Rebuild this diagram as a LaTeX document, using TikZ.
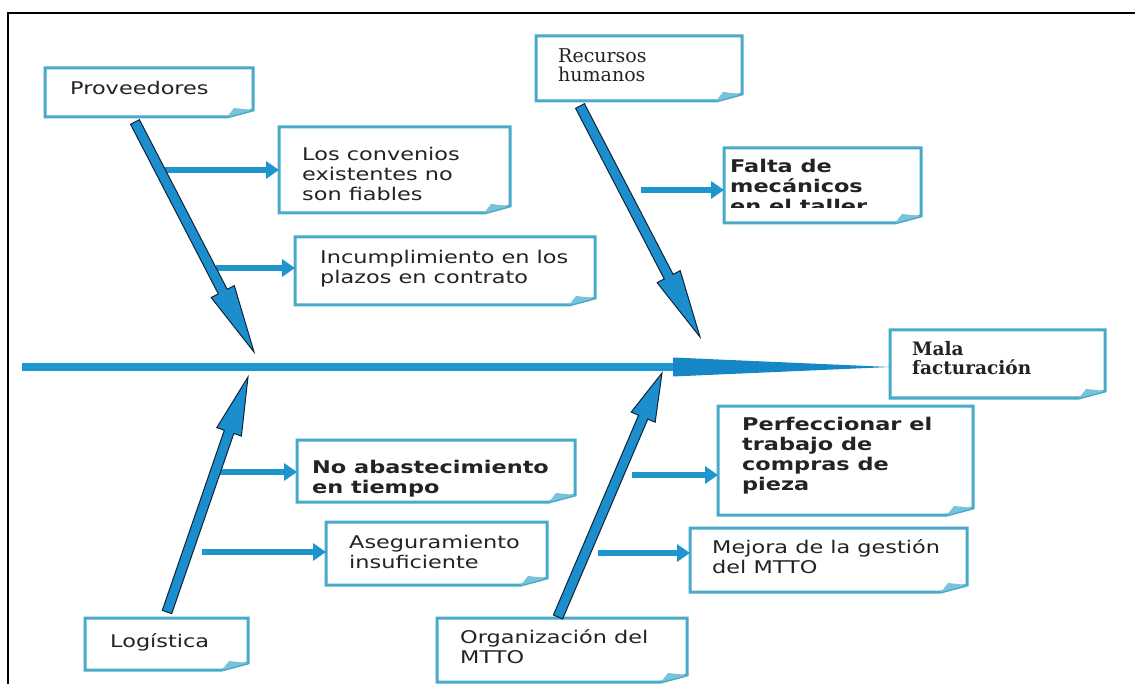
\documentclass[tikz,border=0pt]{standalone}
\usepackage{fontspec}
\usetikzlibrary{calc,arrows.meta}
\newfontfamily\sansf[FakeStretch=1.28]{DejaVu Sans}
\newfontfamily\seriff{DejaVu Serif}
\definecolor{boxc}{RGB}{72,170,200}
\definecolor{foldc}{RGB}{120,195,218}
\definecolor{bonec}{RGB}{28,142,205}
\definecolor{boneedge}{RGB}{15,35,55}
\definecolor{spinec}{RGB}{30,150,210}
\definecolor{spinehead}{RGB}{22,135,198}
\definecolor{subc}{RGB}{30,150,205}
\definecolor{txtc}{RGB}{35,35,35}
\newcommand\cbox[5]{%
  \node[inner sep=0pt, outer sep=0pt, minimum width={#4pt-#2pt}, minimum height={#5pt-#3pt}] (#1) at ({(#2+#4)/2},{(#3+#5)/2}) {};
  \draw[boxline] (#1.north west) -- (#1.north east) -- ([yshift=7pt]#1.south east) -- ([xshift=-26pt]#1.south east) -- (#1.south west) -- cycle;
  \fill[foldc] ([yshift=7pt]#1.south east) -- ([xshift=-26pt]#1.south east) -- ([xshift=-19pt,yshift=9pt]#1.south east) -- cycle;
}
\newcommand\bonearrow[3]{%
  \coordinate (#1-h) at ($(#2)!#3!(#1)$);
  \filldraw[bonefill] ($(#1)!5pt!90:(#2)$) -- ($(#1-h)!5pt!90:(#2)$) -- ($(#1-h)!13pt!90:(#2)$) -- (#2)
     -- ($(#1-h)!13pt!-90:(#2)$) -- ($(#1-h)!5pt!-90:(#2)$) -- ($(#1)!5pt!-90:(#2)$) -- cycle;
}
\begin{document}
\begin{tikzpicture}[x=1pt,y=-1pt,
  boxline/.style={draw=boxc, line width=3pt, fill=white, line join=miter},
  bonefill/.style={fill=bonec, draw=boneedge, line width=1pt, line join=miter},
  subarrow/.style={draw=subc, line width=6pt, -{Triangle[length=13pt,width=17pt]}},
  spinestyle/.style={draw=spinec, line width=7.5pt},
  txt/.style={inner sep=0pt, align=left, text=txtc, anchor=base west, font=\sansf\fontsize{17.5}{20}\selectfont},
  txtb/.style={txt, font=\sansf\bfseries\fontsize{17.5}{20}\selectfont},
  txts/.style={txt, font=\seriff\fontsize{19}{19}\selectfont},
  txtsb/.style={txt, font=\seriff\bfseries\fontsize{18.5}{20}\selectfont}]
\clip (0,0) rectangle (1135,684);
\fill[white] (0,0) rectangle (1135,684);
% frame
\draw[black, line width=2.5pt] (8,700) -- (8,13) -- (1140,13);

% boxes
\cbox{prov}{45}{68}{253}{117}
\cbox{conv}{279}{127}{510}{213}
\cbox{incu}{295}{237}{595}{305}
\cbox{rrhh}{536}{36}{742}{101}
\cbox{falta}{724}{148}{921}{223}
\cbox{mala}{890}{330}{1105}{398}
\cbox{perf}{718}{406}{973}{515}
\cbox{mejo}{690}{528}{967}{592}
\cbox{noab}{297}{440}{575}{502}
\cbox{aseg}{326}{522}{547}{585}
\cbox{logi}{85}{618}{248}{670}
\cbox{orga}{437}{618}{687}{682}

% texts (anchor = baseline of last line)
\node[txt] (prov-t) at (70,95) {Proveedores};
\node[txt] (conv-t) at (302,201) {Los convenios\\existentes no\\son fiables};
\node[txt] (incu-t) at (320,284) {Incumplimiento en los\\plazos en contrato};
\node[txts] (rrhh-t) at (558,82) {Recursos\\humanos};
\begin{scope}
  \clip (725,150) rectangle (920,208);
  \node[txtb] (falta-t) at (730,213) {Falta de\\mecánicos\\en el taller};
\end{scope}
\node[txtsb] (mala-t) at (912,375) {Mala\\facturación};
\node[txtb] (perf-t) at (742,490) {Perfeccionar el\\trabajo de\\compras de\\pieza};
\node[txt] (mejo-t) at (712,573) {Mejora de la gestión\\del MTTO};
\node[txtb] (noab-t) at (312,493) {No abastecimiento\\en tiempo};
\node[txt] (aseg-t) at (349,568) {Aseguramiento\\insuficiente};
\node[txt] (logi-t) at (110,647) {Logística};
\node[txt] (orga-t) at (460,663) {Organización del\\MTTO};

% spine
\coordinate (spstart) at (22,367);
\coordinate (sptip) at ($(mala.west)+(0,3)$);
\coordinate (sphead) at (673,367);
\draw[spinestyle] (spstart) -- ([xshift=2pt]sphead);
\fill[spinehead] ([yshift=9.5pt]sphead) -- (sptip) -- ([yshift=-9.5pt]sphead) -- cycle;

% sub-cause arrows
\coordinate (s-conv) at (160,170);
\coordinate (s-incu) at (216,268);
\coordinate (s-falta) at (641,190);
\coordinate (s-noab) at (214,472);
\coordinate (s-aseg) at (202,552);
\coordinate (s-perf) at (632,475);
\coordinate (s-mejo) at (598,553);
\draw[subarrow] (s-conv) -- (s-conv -| conv.west);
\draw[subarrow] (s-incu) -- (s-incu -| incu.west);
\draw[subarrow] (s-falta) -- (s-falta -| falta.west);
\draw[subarrow] (s-noab) -- (s-noab -| noab.west);
\draw[subarrow] (s-aseg) -- (s-aseg -| aseg.west);
\draw[subarrow] (s-perf) -- (s-perf -| perf.west);
\draw[subarrow] (s-mejo) -- (s-mejo -| mejo.west);

% bones
\coordinate (provtail) at (135,122);
\coordinate (provtip) at (254,352);
\coordinate (rrhhtail) at (580,106);
\coordinate (rrhhtip) at (700,337);
\coordinate (logitail) at (167,612);
\coordinate (logitip) at (248,377);
\coordinate (orgatail) at (558,617);
\coordinate (orgatip) at (662,373);
\bonearrow{provtail}{provtip}{68pt}
\bonearrow{rrhhtail}{rrhhtip}{68pt}
\bonearrow{logitail}{logitip}{58pt}
\bonearrow{orgatail}{orgatip}{48pt}
\end{tikzpicture}
\end{document}
